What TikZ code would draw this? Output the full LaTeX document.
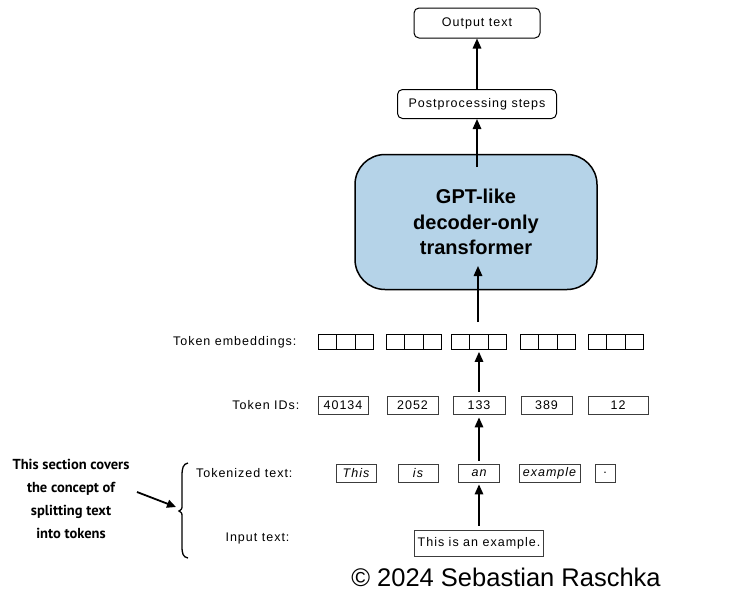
\documentclass[tikz,border=0pt]{standalone}
\usepackage{fontspec}
\setmainfont{Liberation Sans}
\newfontfamily\widefont{Liberation Sans}[LetterSpace=8]
\newfontfamily\notefont{PT Sans}
\usetikzlibrary{arrows.meta}
\definecolor{tfblue}{RGB}{181,211,232}
\definecolor{boxgray}{RGB}{60,60,60}
\tikzset{
  arr/.style={-{Triangle[length=10pt,width=8.5pt]},line width=1.6pt},
  rbox/.style={draw=black,line width=1pt,rounded corners=5pt,inner sep=0pt,minimum height=29pt,font=\widefont\fontsize{12.5}{14}\selectfont},
  tok/.style={draw=boxgray,line width=0.8pt,inner sep=0pt,minimum height=18pt,font=\widefont\fontsize{12.5}{14}\selectfont},
  itok/.style={tok,font=\widefont\fontsize{12.5}{14}\selectfont\itshape},
  emb/.style={draw=black,line width=0.8pt,inner sep=0pt,minimum width=55pt,minimum height=15pt},
  lab/.style={anchor=east,font=\widefont\fontsize{12.5}{14}\selectfont},
}
\begin{document}
\begin{tikzpicture}[x=1pt,y=-1pt]
\useasboundingbox (0,0) rectangle (736,595);
% top boxes
\node[rbox,minimum width=126pt,minimum height=30pt] (out) at (477,23) {Output text};
\node[rbox,minimum width=159pt] (post) at (477,104) {Postprocessing steps};
\node[draw=black,line width=1.5pt,fill=tfblue,rounded corners=30pt,minimum width=242pt,minimum height=135pt,align=center,font=\fontsize{20}{25.5}\selectfont\bfseries] (gpt) at (476,222) {GPT-like\\decoder-only\\transformer};
\coordinate (gtop) at (477,167);
\coordinate (gbot) at (478,266);
\draw[arr] (post.north) -- (out.south);
\draw[arr] (gtop) -- (post.south);
% embeddings
\foreach \i/\x in {1/345.5,2/414,3/479,4/548,5/616}{
  \node[emb] (e\i) at (\x,342) {};
  \draw[line width=0.8pt] ([xshift=18.3pt]e\i.south west) -- ([xshift=18.3pt]e\i.north west);
  \draw[line width=0.8pt] ([xshift=-18.3pt]e\i.south east) -- ([xshift=-18.3pt]e\i.north east);
}
\coordinate (etop) at (478,322);
\node[lab] (lemb) at (300,342) {Token embeddings:};
\draw[arr] (etop) -- (gbot);
% token IDs
\node[tok,minimum width=50pt] (i1) at (343,405) {40134};
\node[tok,minimum width=51pt] (i2) at (412.5,405) {2052};
\node[tok,minimum width=52pt] (i3) at (479,405) {133};
\node[tok,minimum width=51pt] (i4) at (546.5,405) {389};
\node[tok,minimum width=60pt] (i5) at (618,405) {12};
\node[lab] (lids) at (303,405) {Token IDs:};
\draw[arr] ([yshift=4pt]i3.north) -- ([yshift=-2pt]e3.south);
% tokenized
\node[itok,minimum width=40pt] (t1) at (356,473) {This};
\node[itok,minimum width=40pt] (t2) at (418,473) {is};
\node[itok,minimum width=41pt] (t3) at (479,473) {an};
\node[itok,minimum width=61pt] (t4) at (549.5,473) {example};
\node[tok,minimum width=20pt] (t5) at (605,473) {.};
\node[lab] (ltok) at (296,473) {Tokenized text:};
\draw[arr] ([yshift=3pt]t3.north) -- ([yshift=-3pt]i3.south);
% input
\node[tok,minimum width=129pt,minimum height=26pt] (inp) at (479,543) {This is an example.};
\node[lab] (linp) at (293,538) {Input text:};
\draw[arr] ([yshift=4pt]inp.north) -- ([yshift=-2pt]t3.south);
% brace
\coordinate (b1) at (188,463);
\coordinate (b2) at (188,558);
\draw[line width=1.3pt] (b1) .. controls (183,464) and (182,468) .. (182,476) -- (182,505) .. controls (182,509) .. (179,511) .. controls (182,513) .. (182,517) -- (182,546) .. controls (182,554) and (183,557) .. (b2);
% note
\node[align=center,font=\notefont\bfseries\fontsize{14.5}{23}\selectfont] (note) at (71,499) {This section covers\\the concept of\\splitting text\\into tokens};
\coordinate (ns) at (137,492);
\coordinate (ne) at (176,507);
\draw[-{Triangle[length=9pt,width=8pt]},line width=1.8pt] (ns) -- (ne);
% copyright
\node[font=\fontsize{25.5}{28}\selectfont] (copy) at (506,577) {© 2024 Sebastian Raschka};
\end{tikzpicture}
\end{document}
